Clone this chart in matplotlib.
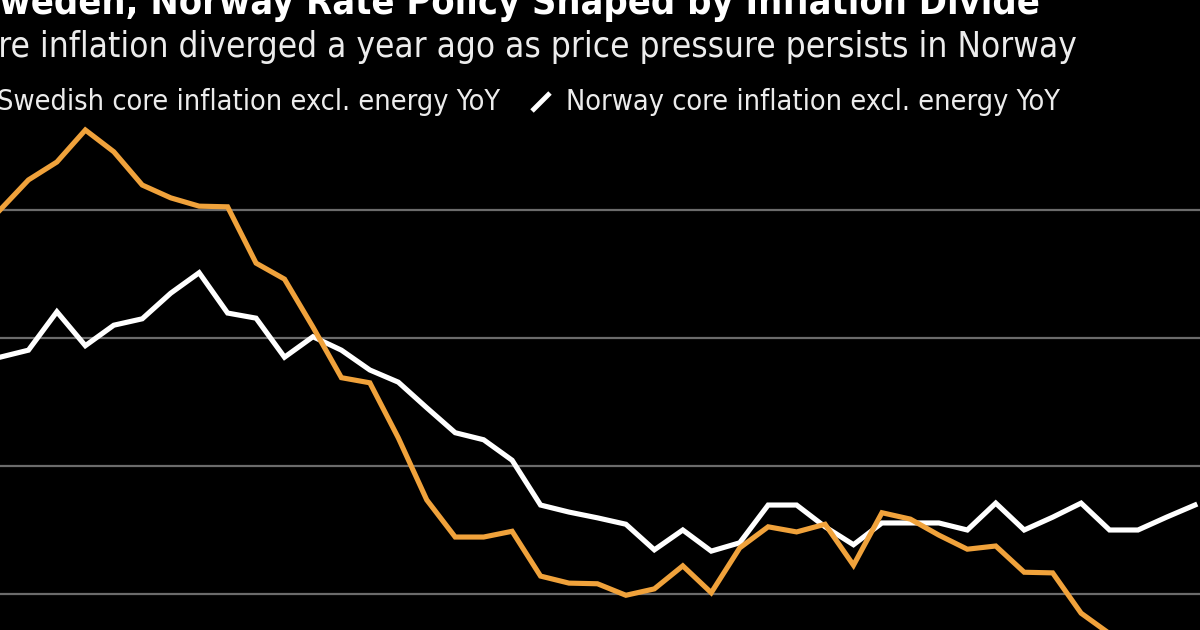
import numpy as np
import matplotlib
matplotlib.use('Agg')
import matplotlib.pyplot as plt
from matplotlib.lines import Line2D

plt.rcParams['font.family'] = ['DejaVu Sans']
plt.rcParams['font.stretch'] = 'condensed'

#%% Data (monthly, YoY %)
sweden = [8.0, 8.47, 8.75, 9.25, 8.91, 8.39, 8.19, 8.06, 8.05, 7.17,
          6.92, 6.17, 5.38, 5.30, 4.44, 3.47, 2.89, 2.89, 2.98, 2.28,
          2.17, 2.16, 1.98, 2.08, 2.44, 2.02, 2.72, 3.05, 2.97, 3.09,
          2.45, 3.27, 3.17, 2.92, 2.70, 2.75, 2.34, 2.33, 1.70, 1.38]
norway = [5.70, 5.81, 6.41, 5.88, 6.20, 6.30, 6.70, 7.02, 6.39, 6.31,
          5.70, 6.02, 5.81, 5.50, 5.31, 4.91, 4.52, 4.41, 4.09, 3.39,
          3.28, 3.19, 3.09, 2.69, 3.00, 2.67, 2.80, 3.39, 3.39, 3.05,
          2.77, 3.11, 3.11, 3.11, 3.00, 3.42, 3.00, 3.20, 3.42, 3.00,
          3.00, 3.20, 3.39]
gridlines = [2, 4, 6, 8]

title = 'Sweden, Norway Rate Policy Shaped by Inflation Divide'
subtitle = 'Core inflation diverged a year ago as price pressure persists in Norway'
label_se = 'Swedish core inflation excl. energy YoY'
label_no = 'Norway core inflation excl. energy YoY'

orange = '#f0a23b'
bg = '#000000'

#%% Plot
W, H = 1200, 630
fig = plt.figure(figsize=(W / 100, H / 100), dpi=100, facecolor=bg)
ax = fig.add_axes([0, 0, 1, 1])
ax.set_facecolor(bg)

for g in gridlines:
    ax.axhline(g, color='#6b6b6b', lw=1.6, zorder=1)

ax.plot(np.arange(len(norway)), norway, color='white', lw=3.7,
        solid_joinstyle='miter', zorder=3)
ax.plot(np.arange(len(sweden)), sweden, color=orange, lw=3.7,
        solid_joinstyle='miter', zorder=4)

ax.set_xlim(0, W / 28.45)
ax.set_ylim(2 - 36 / 64, 2 + 594 / 64)
ax.axis('off')

def fy(px):
    return 1 - px / H

renderer = fig.canvas.get_renderer()

def fit_size(s, span, weight='normal'):
    # font size that makes string s about span pixels wide
    t = fig.text(0, 0, s, fontsize=20, fontweight=weight)
    w = t.get_window_extent(renderer).width
    t.remove()
    return 20 * span / w

fs_title = fit_size('weden, Norway Rate Policy Shaped by Inflation Divide', 1040, 'bold')
fs_sub = fit_size('re inflation diverged a year ago as price pressure persists in Norway', 1077)
fs_leg = fit_size(label_no, 494)

fig.text(1040 / W, fy(14), title, ha='right', va='baseline', color='white',
         fontsize=fs_title, fontweight='bold')
fig.text(1077 / W, fy(57), subtitle, ha='right', va='baseline', color='#ececec',
         fontsize=fs_sub)
fig.text(500 / W, fy(110), label_se, ha='right', va='baseline', color='#ececec',
         fontsize=fs_leg)
fig.text(566 / W, fy(110), label_no, ha='left', va='baseline', color='#ececec',
         fontsize=fs_leg)
fig.add_artist(Line2D([532 / W, 550 / W], [fy(111), fy(93)], color='white',
                      lw=3.5, solid_capstyle='butt'))

plt.savefig('out.png', dpi=100, facecolor=bg)
